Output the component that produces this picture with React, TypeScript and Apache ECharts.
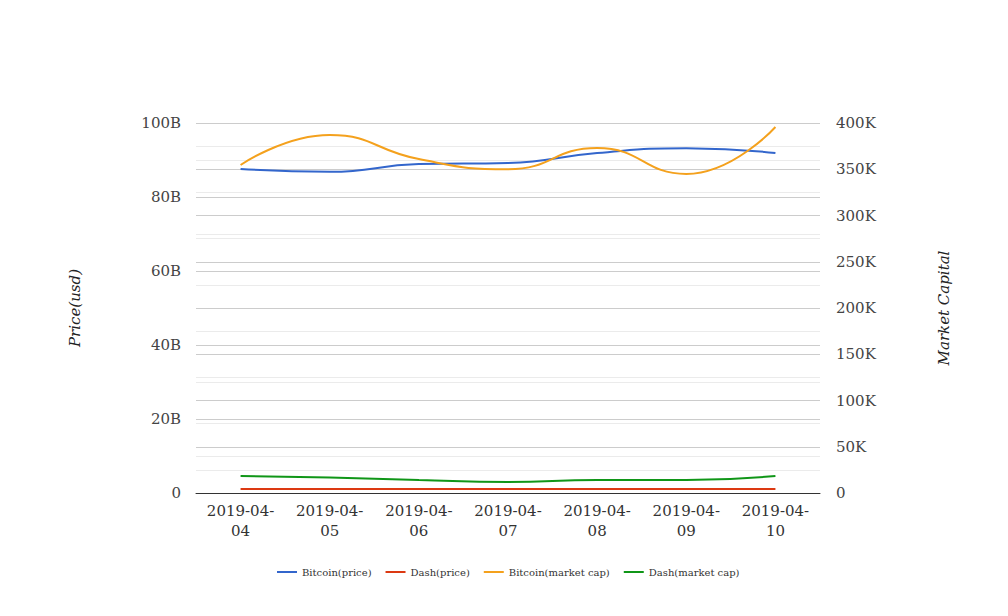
import React, { useEffect, useRef } from "react";
import * as echarts from "echarts";

const categories = ["2019-04-04", "2019-04-05", "2019-04-06", "2019-04-07", "2019-04-08", "2019-04-09", "2019-04-10"];
const bitcoinPrice = [87.6e9, 86.8e9, 88.9e9, 89.2e9, 91.9e9, 93.2e9, 91.9e9];
const dashPrice = [1.1e9, 1.1e9, 1.1e9, 1.1e9, 1.1e9, 1.1e9, 1.1e9];
const bitcoinCap = [354600, 387000, 361000, 350000, 373000, 345000, 395700];
const dashCap = [18400, 16800, 14000, 11900, 14000, 14000, 18400];

const FONT = "DejaVu Serif";

export default function App() {
  const ref = useRef<HTMLDivElement>(null);
  useEffect(() => {
    const chart = echarts.init(ref.current!, null, { renderer: "svg" });
    const split = { show: true, lineStyle: { color: "#cccccc", width: 1 } };
    const minor = { show: true, lineStyle: { color: "#ebebeb", width: 1 } };
    chart.setOption({
      animation: false,
      color: ["#3366cc", "#dc3912", "#f4a11d", "#109618"],
      grid: { left: 188, right: 180, top: 115, bottom: 115, containLabel: false },
      legend: {
        bottom: 26,
        left: 264,
        itemWidth: 20,
        itemHeight: 2,
        itemGap: 14,
        icon: "rect",
        textStyle: { fontFamily: FONT, fontSize: 10, color: "#333" },
        data: ["Bitcoin(price)", "Dash(price)", "Bitcoin(market cap)", "Dash(market cap)"],
      },
      xAxis: {
        type: "category",
        data: categories,
        boundaryGap: true,
        axisLine: { show: true, lineStyle: { color: "#333", width: 1 } },
        axisTick: { show: false },
        axisLabel: {
          fontFamily: FONT,
          fontSize: 15,
          color: "#333",
          margin: 8,
          lineHeight: 20,
          interval: 0,
          formatter: (v: string) => v.slice(0, 8) + "\n" + v.slice(8),
        },
      },
      yAxis: [
        {
          type: "value",
          min: 0,
          max: 100e9,
          interval: 20e9,
          name: "Price(usd)",
          nameLocation: "middle",
          nameGap: 114,
          nameRotate: 90,
          nameTextStyle: { fontFamily: FONT, fontSize: 15, fontStyle: "italic", color: "#222" },
          axisLine: { show: false },
          axisTick: { show: false },
          axisLabel: {
            fontFamily: FONT,
            fontSize: 15,
            color: "#444",
            margin: 15,
            formatter: (v: number) => (v === 0 ? "0" : v / 1e9 + "B"),
          },
          splitLine: split,
          minorTick: { show: false, splitNumber: 2 },
          minorSplitLine: minor,
        },
        {
          type: "value",
          min: 0,
          max: 400000,
          interval: 50000,
          name: "Market Capital",
          nameLocation: "middle",
          nameGap: 116,
          nameRotate: 90,
          nameTextStyle: { fontFamily: FONT, fontSize: 15, fontStyle: "italic", color: "#222" },
          axisLine: { show: false },
          axisTick: { show: false },
          axisLabel: {
            fontFamily: FONT,
            fontSize: 15,
            color: "#444",
            margin: 16,
            formatter: (v: number) => (v === 0 ? "0" : v / 1000 + "K"),
          },
          splitLine: split,
          minorTick: { show: false, splitNumber: 2 },
          minorSplitLine: minor,
        },
      ],
      series: [
        { name: "Bitcoin(price)", type: "line", yAxisIndex: 0, data: bitcoinPrice, smooth: true, symbol: "none", lineStyle: { width: 2 } },
        { name: "Dash(price)", type: "line", yAxisIndex: 0, data: dashPrice, smooth: true, symbol: "none", lineStyle: { width: 2 } },
        { name: "Bitcoin(market cap)", type: "line", yAxisIndex: 1, data: bitcoinCap, smooth: true, symbol: "none", lineStyle: { width: 2 } },
        { name: "Dash(market cap)", type: "line", yAxisIndex: 1, data: dashCap, smooth: true, symbol: "none", lineStyle: { width: 2 } },
      ],
    });
    return () => chart.dispose();
  }, []);
  return <div ref={ref} style={{ width: 992, height: 600 }} />;
}
